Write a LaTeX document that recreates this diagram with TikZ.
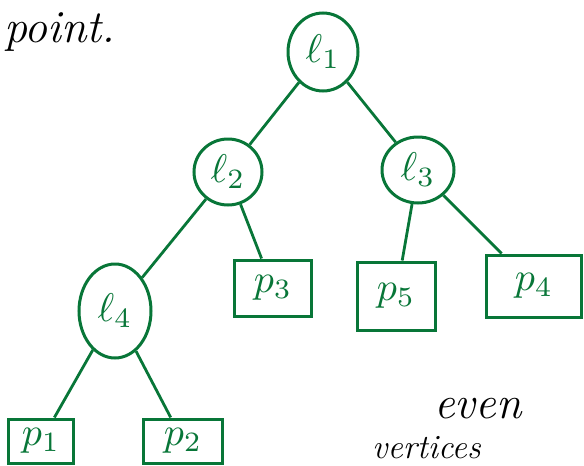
\documentclass[tikz,border=0pt]{standalone}
\usepackage{graphicx}
\usetikzlibrary{shapes.geometric}
\definecolor{pen}{RGB}{8,118,56}
\newcommand{\biglab}[1]{\scalebox{4}{$#1$}}
\begin{document}
\begin{tikzpicture}[x=1pt,y=-1pt,
  inner/.style={draw=pen,line width=3pt,ellipse,inner sep=0pt,text=pen},
  leaf/.style={draw=pen,line width=3pt,rectangle,inner sep=0pt,text=pen},
  edge/.style={draw=pen,line width=2.8pt},
  ink/.style={text=black,font=\itshape\fontsize{46}{46}\selectfont,inner sep=0pt}]
\useasboundingbox (0,0) rectangle (584,466);
\node[inner,minimum width=70pt,minimum height=78pt] (l1) at (323,52) {\biglab{\ell_1}};
\node[inner,minimum width=68pt,minimum height=66pt] (l2) at (228,172) {\biglab{\ell_2}};
\node[inner,minimum width=72pt,minimum height=66pt] (l3) at (418,170) {\biglab{\ell_3}};
\node[inner,minimum width=72pt,minimum height=94pt] (l4) at (115,311) {\biglab{\ell_4}};
\node[leaf,minimum width=77pt,minimum height=56pt] (p3) at (273,288) {\biglab{p_3}};
\node[leaf,minimum width=78pt,minimum height=68pt] (p5) at (396,296) {\biglab{p_5}};
\node[leaf,minimum width=95pt,minimum height=62pt] (p4) at (534,286) {\biglab{p_4}};
\node[leaf,minimum width=65pt,minimum height=44pt] (p1) at (41,441) {\biglab{p_1}};
\node[leaf,minimum width=79pt,minimum height=44pt] (p2) at (183,441) {\biglab{p_2}};
\draw[edge] (l1) -- (l2);
\draw[edge] (l1) -- (l3);
\draw[edge] (l2) -- (l4);
\draw[edge] (l2) -- (p3);
\draw[edge] (l3) -- (p5);
\draw[edge] (l3) -- (p4);
\draw[edge] (l4) -- (p1);
\draw[edge] (l4) -- (p2);
\node[ink,anchor=base west] (t1) at (4,42) {point.};
\node[ink,anchor=base west] (t2) at (434,418) {even};
\node[ink,anchor=base west,font=\itshape\fontsize{34}{34}\selectfont] (t3) at (372,458) {vertices};
\end{tikzpicture}
\end{document}
